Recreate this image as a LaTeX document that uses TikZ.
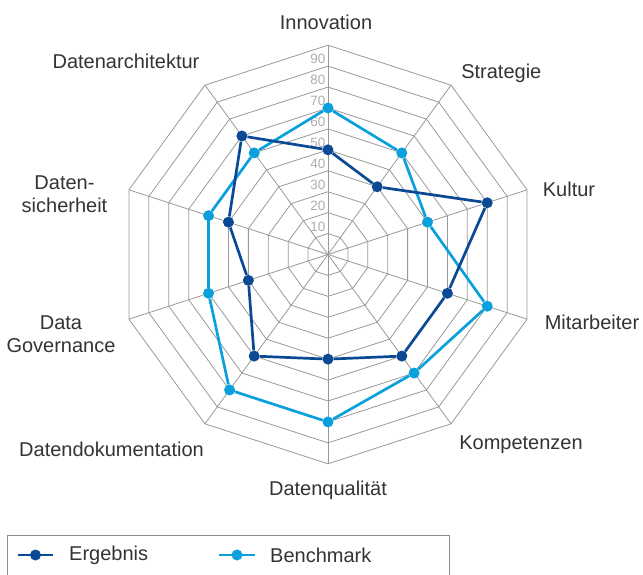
\documentclass[tikz,border=0pt]{standalone}
\usepackage{fontspec}
\setmainfont{Liberation Sans}
\usepackage{xcolor}
\usepackage{tikz}
\usetikzlibrary{positioning}
\definecolor{ergblue}{HTML}{0A4A94}
\definecolor{benchblue}{HTML}{0AA0DC}
\definecolor{gridgray}{HTML}{999999}
\definecolor{ticktext}{HTML}{ADADAD}
\definecolor{labeltext}{HTML}{333333}
\tikzstyle{gridline}=[draw=gridgray,line width=0.8pt]
\tikzstyle{ergdot}=[circle,fill=ergblue,minimum size=11pt,inner sep=0pt]
\tikzstyle{benchdot}=[circle,fill=benchblue,minimum size=11pt,inner sep=0pt]
\tikzstyle{ergline}=[draw=ergblue,line width=2.7pt]
\tikzstyle{benchline}=[draw=benchblue,line width=2.7pt]
\tikzstyle{axislabel}=[font=\fontsize{20}{23}\selectfont,text=labeltext,align=center,inner sep=0pt]
\tikzstyle{ticklabel}=[font=\fontsize{13.5}{14}\selectfont,text=ticktext,anchor=south east,inner sep=1pt]
\tikzstyle{legendbox}=[draw=gray!90,line width=0.9pt]

\begin{document}
\begin{tikzpicture}[x=1pt,y=1pt]

  \useasboundingbox (-328,-319.5) rectangle (315,254.5);
  \def\unit{2.093};

  \coordinate (c) at (0,0);
  \foreach \a in {0,...,9}
     \coordinate (v\a) at ({90-\a*36}:{100*\unit});

  % rings and spokes
  \foreach \r in {1,...,10}
     \draw[gridline] (90:{\r*10*\unit}) \foreach \a in {1,...,9} { -- ({90-\a*36}:{\r*10*\unit}) } -- cycle;
  \foreach \a in {0,...,9}
     \draw[gridline] (c) -- (v\a);

  \foreach \v in {10,20,...,90}
     \node[ticklabel] (t\v) at (-1.3, \v*\unit+1) {\v};

  % axis labels
  \foreach \x/\y/\name/\label in {-2/232/innovation/Innovation, 173.3/181.5/strategie/Strategie,
        241/65.5/kultur/Kultur, 264/-67.5/mitarbeiter/Mitarbeiter, 193/-190.5/kompetenzen/Kompetenzen,
        0/-235.5/qualitaet/Datenqualität, -216.5/-194.5/doku/Datendokumentation,
        -267/-79.5/governance/{Data\\Governance}, -263.5/60.5/sicherheit/{Daten-\\sicherheit},
        -202/193.5/architektur/Datenarchitektur}
     \node[axislabel] (\name) at (\x, \y) {\label};

  % Benchmark
  \foreach \i/\v in {0/70, 1/60, 2/50, 3/80, 4/70, 5/80, 6/80, 7/60, 8/60, 9/60}
     \node[benchdot] (b\i) at ({90-\i*36}:{\v*\unit}) {};
  \foreach \i in {0,...,9}
  {
     \pgfmathtruncatemacro{\j}{mod(\i+1,10)}
     \path[benchline] (b\i) -- (b\j);
  }

  % Ergebnis
  \foreach \i/\v in {0/50, 1/40, 2/80, 3/60, 4/60, 5/50, 6/60, 7/40, 8/50, 9/70}
     \node[ergdot] (e\i) at ({90-\i*36}:{\v*\unit}) {};
  \foreach \i in {0,...,9}
  {
     \pgfmathtruncatemacro{\j}{mod(\i+1,10)}
     \path[ergline] (e\i) -- (e\j);
  }

  % legend
  \draw[legendbox] (-321,-330) -- (-321,-281.2) -- (121,-281.2) -- (121,-330);

  \coordinate (lergA) at (-310,-300.5);
  \coordinate (lergB) at (-275,-300.5);
  \path[ergline] (lergA) -- (lergB);
  \node[ergdot] (lerg) at (-292.5,-300.5) {};
  \node[axislabel, right=16pt of lergB] (lergtext) {Ergebnis};

  \coordinate (lbenchA) at (-109,-300.5);
  \coordinate (lbenchB) at (-73,-300.5);
  \path[benchline] (lbenchA) -- (lbenchB);
  \node[benchdot] (lbench) at (-91,-300.5) {};
  \node[axislabel, right=15pt of lbenchB] (lbenchtext) {Benchmark};

\end{tikzpicture}
\end{document}
